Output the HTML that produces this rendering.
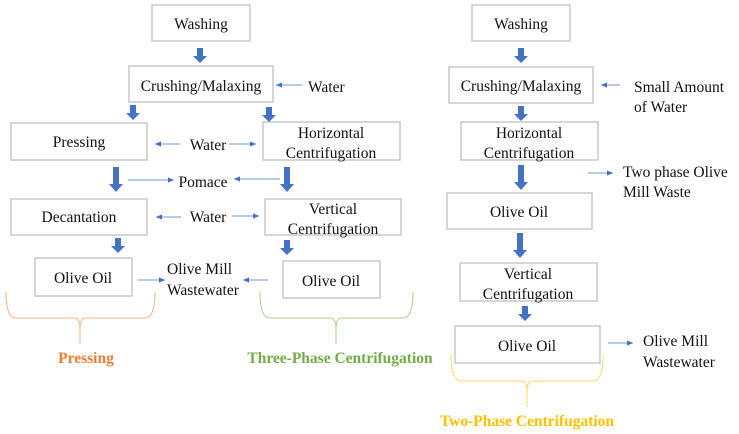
<!DOCTYPE html>
<html><head><meta charset="utf-8"><style>body{margin:0;background:#fff}svg{display:block}text{font-family:"Liberation Serif",serif;font-size:15.5px;fill:#111}</style></head>
<body>
<svg width="739" height="434" viewBox="0 0 739 434" xmlns="http://www.w3.org/2000/svg">
<defs>
<marker id="a" markerWidth="6" markerHeight="6" refX="5" refY="3" orient="auto"><path d="M0,0.8 L5,3 L0,5.2z" fill="#4472c4"/></marker>
<g id="b"><path d="M-3,0 h6 v8 h4 l-7,7 l-7,-7 h4z" fill="#4472c4"/></g>
<g id="bl"><path d="M-3,0 h6 v17 h4 l-7,8 l-7,-8 h4z" fill="#4472c4"/></g>
</defs>
<g fill="#fff" stroke="#bfbfbf" stroke-width="1.3">
<rect x="152" y="5" width="98" height="36"/>
<rect x="129" y="66" width="144" height="36"/>
<rect x="11" y="123" width="136" height="37"/>
<rect x="263" y="122" width="137" height="38"/>
<rect x="11" y="199" width="136" height="36"/>
<rect x="265" y="199" width="136" height="36"/>
<rect x="35" y="258" width="97" height="38"/>
<rect x="283" y="261" width="97" height="37"/>
<rect x="472" y="5" width="98" height="36"/>
<rect x="449" y="67" width="144" height="36"/>
<rect x="461" y="122" width="137" height="38"/>
<rect x="447" y="193" width="145" height="36"/>
<rect x="460" y="263" width="137" height="38"/>
<rect x="455" y="326" width="145" height="37"/>
</g>
<use href="#b" x="200" y="48"/><use href="#b" x="133" y="105"/><use href="#b" x="269" y="107"/>
<use href="#bl" x="116" y="167"/><use href="#bl" x="287" y="167"/>
<use href="#b" x="118" y="238"/><use href="#b" x="287" y="240"/>
<use href="#b" x="521" y="48"/><use href="#b" x="521" y="106"/><use href="#bl" x="521" y="165"/>
<use href="#bl" x="520" y="233"/><use href="#b" x="525" y="306"/>
<g stroke="#8eaadb" stroke-width="1.2" marker-end="url(#a)" fill="none">
<line x1="302" y1="85" x2="276" y2="85"/>
<line x1="180" y1="144" x2="155" y2="144"/><line x1="229" y1="144" x2="256" y2="144"/>
<line x1="128" y1="180" x2="174" y2="180"/><line x1="280" y1="179" x2="234" y2="179"/>
<line x1="181" y1="217" x2="156" y2="217"/><line x1="232" y1="216" x2="259" y2="216"/>
<line x1="138" y1="280" x2="165" y2="280"/><line x1="268" y1="280" x2="243" y2="280"/>
<line x1="620" y1="85" x2="601" y2="85"/>
<line x1="588" y1="173" x2="613" y2="173"/>
<line x1="608" y1="343" x2="633" y2="343"/>
</g>
<g fill="none" stroke-width="1">
<path d="M6,292 q0,26 10,26 h58 q6,0 6,10 v16 v-16 q0,-10 6,-10 h59 q10,0 10,-26" stroke="#f4b183"/>
<path d="M260,292 q0,26 10,26 h60 q6,0 6,10 v16 v-16 q0,-10 6,-10 h61 q10,0 10,-26" stroke="#a9d18e"/>
<path d="M451,355 q0,26 10,26 h60 q6,0 6,10 v16 v-16 q0,-10 6,-10 h60 q10,0 10,-26" stroke="#ffd966"/>
</g>
<g text-anchor="middle">
<text x="201" y="29">Washing</text>
<text x="201" y="91">Crushing/Malaxing</text>
<text x="79" y="147">Pressing</text>
<text x="331" y="138">Horizontal</text><text x="331" y="158">Centrifugation</text>
<text x="208" y="150">Water</text>
<text x="203" y="187">Pomace</text>
<text x="79" y="222">Decantation</text>
<text x="333" y="214">Vertical</text><text x="333" y="234">Centrifugation</text>
<text x="208" y="222">Water</text>
<text x="83" y="283">Olive Oil</text>
<text x="331" y="286">Olive Oil</text>
<text x="521" y="29">Washing</text>
<text x="521" y="91">Crushing/Malaxing</text>
<text x="529" y="138">Horizontal</text><text x="529" y="158">Centrifugation</text>
<text x="519" y="217">Olive Oil</text>
<text x="528" y="279">Vertical</text><text x="528" y="299">Centrifugation</text>
<text x="527" y="351">Olive Oil</text>
<text x="86" y="363" style="font-weight:bold;fill:#ed7d31">Pressing</text>
<text x="340" y="363" style="font-weight:bold;fill:#70ad47">Three-Phase Centrifugation</text>
<text x="527" y="426" style="font-weight:bold;fill:#ffc000">Two-Phase Centrifugation</text>
</g>
<text x="308" y="92">Water</text>
<text x="167" y="274">Olive Mill</text><text x="167" y="295">Wastewater</text>
<text x="634" y="92">Small Amount</text><text x="634" y="112">of Water</text>
<text x="623" y="177">Two phase Olive</text><text x="623" y="197">Mill Waste</text>
<text x="643" y="346">Olive Mill</text><text x="643" y="367">Wastewater</text>
</svg>
</body></html>
